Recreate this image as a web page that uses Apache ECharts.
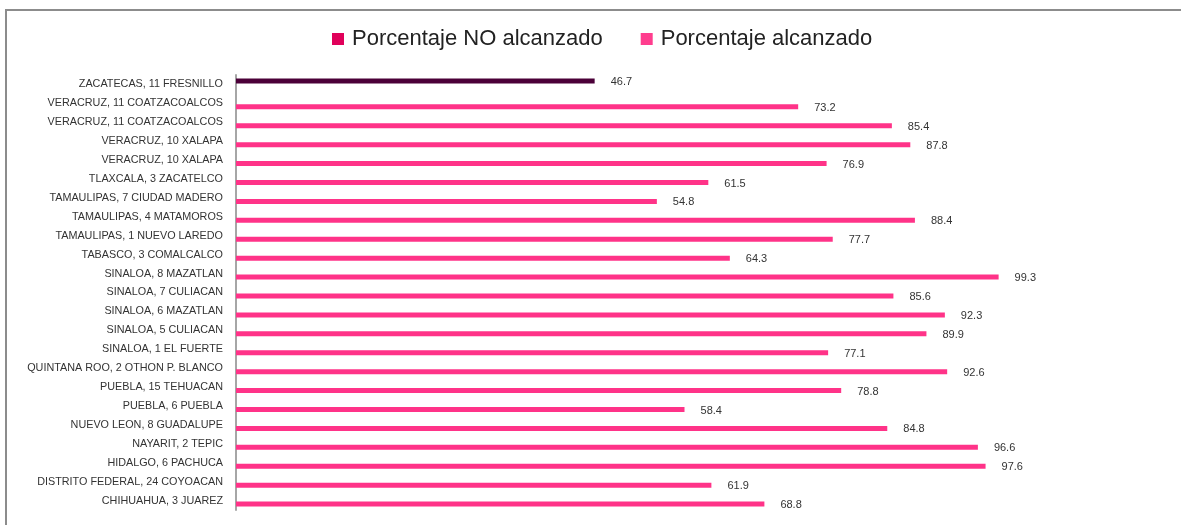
<!DOCTYPE html>
<html>
<head>
<meta charset="utf-8">
<script src="https://cdn.jsdelivr.net/npm/echarts@6/dist/echarts.min.js"></script>
<style>
  html, body { margin: 0; padding: 0; background: #fff; }
  #chart { width: 1181px; height: 525px; }
</style>
</head>
<body>
<div id="chart"></div>
<script>
const categories = [
  'ZACATECAS, 11 FRESNILLO',
  'VERACRUZ, 11 COATZACOALCOS',
  'VERACRUZ, 11 COATZACOALCOS',
  'VERACRUZ, 10 XALAPA',
  'VERACRUZ, 10 XALAPA',
  'TLAXCALA, 3 ZACATELCO',
  'TAMAULIPAS, 7 CIUDAD MADERO',
  'TAMAULIPAS, 4 MATAMOROS',
  'TAMAULIPAS, 1 NUEVO LAREDO',
  'TABASCO, 3 COMALCALCO',
  'SINALOA, 8 MAZATLAN',
  'SINALOA, 7 CULIACAN',
  'SINALOA, 6 MAZATLAN',
  'SINALOA, 5 CULIACAN',
  'SINALOA, 1 EL FUERTE',
  'QUINTANA ROO, 2 OTHON P. BLANCO',
  'PUEBLA, 15 TEHUACAN',
  'PUEBLA, 6 PUEBLA',
  'NUEVO LEON, 8 GUADALUPE',
  'NAYARIT, 2 TEPIC',
  'HIDALGO, 6 PACHUCA',
  'DISTRITO FEDERAL, 24 COYOACAN',
  'CHIHUAHUA, 3 JUAREZ'
]

// '-' = no bar for that category
const noAlcanzado = [46.7, '-', '-', '-', '-', '-', '-', '-', '-', '-', '-', '-',
  '-', '-', '-', '-', '-', '-', '-', '-', '-', '-', '-']
const alcanzado = ['-', 73.2, 85.4, 87.8, 76.9, 61.5, 54.8, 88.4, 77.7, 64.3, 99.3,
  85.6, 92.3, 89.9, 77.1, 92.6, 78.8, 58.4, 84.8, 96.6, 97.6, 61.9, 68.8]

const chart = echarts.init(document.getElementById('chart'))

const valueLabel = {
  show: true,
  position: 'right',
  distance: 16,
  offset: [0, 1],
  fontFamily: 'Liberation Sans',
  fontSize: 11,
  color: '#333'
}

chart.setOption({
  animation: false,
  graphic: [
    {
      type: 'rect',
      shape: { x: 6, y: 10, width: 1200, height: 540 },
      style: { fill: 'none', stroke: '#8c8c8c', lineWidth: 2 },
      silent: true
    }
  ],
  legend: {
    top: 23,
    left: 327,
    itemWidth: 12,
    itemHeight: 12,
    itemGap: 38,
    textStyle: {
      fontFamily: 'Liberation Sans',
      fontSize: 22,
      color: '#222',
      padding: [0, 0, 0, 3]
    },
    data: [
      { name: 'Porcentaje NO alcanzado', icon: 'rect', itemStyle: { color: '#E0005A' } },
      { name: 'Porcentaje alcanzado', icon: 'rect', itemStyle: { color: '#FF3D8E' } }
    ]
  },
  grid: {
    left: 236,
    right: 177,
    top: 75,
    bottom: 15
  },
  xAxis: {
    type: 'value',
    min: 0,
    max: 100,
    show: false
  },
  yAxis: {
    type: 'category',
    inverse: true,
    data: categories,
    axisLine: { show: true, lineStyle: { color: '#a6a6a6', width: 2 } },
    axisTick: { show: false },
    axisLabel: {
      margin: 13,
      fontFamily: 'Liberation Sans',
      fontSize: 10.8,
      color: '#333'
    }
  },
  series: [
    {
      name: 'Porcentaje NO alcanzado',
      type: 'bar',
      data: noAlcanzado,
      barWidth: 5,
      barGap: '40%',
      itemStyle: { color: '#4B0038' },
      label: valueLabel
    },
    {
      name: 'Porcentaje alcanzado',
      type: 'bar',
      data: alcanzado,
      barWidth: 5,
      itemStyle: { color: '#FF3388' },
      label: valueLabel
    }
  ]
})
</script>
</body>
</html>
